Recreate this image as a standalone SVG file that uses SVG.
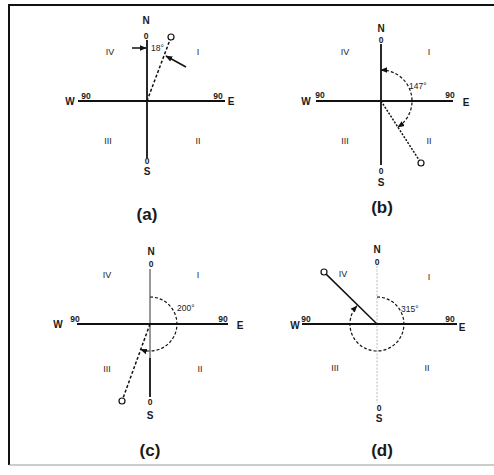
<svg xmlns="http://www.w3.org/2000/svg" width="494" height="475" viewBox="0 0 494 475">
<defs>
<marker id="ah" viewBox="0 0 10 10" refX="9" refY="5" markerWidth="7" markerHeight="7" markerUnits="userSpaceOnUse" orient="auto-start-reverse"><path d="M0,1 L10,5 L0,9 z" fill="#111"/></marker>
</defs>
<style>
text{font-family:"Liberation Sans",Arial,sans-serif;fill:#1a1a1a;text-anchor:middle}
.dir{font-size:10px;font-weight:bold}
.num{font-size:8.5px;font-weight:bold}
.q{font-size:9px}
.ang{font-size:8.5px;text-anchor:start}
.cap{font-size:17px;font-weight:bold}
.axis{stroke:#111;stroke-width:1.8;fill:none}
.ray{stroke:#111;stroke-width:1.5;fill:none}
.arc{stroke:#111;stroke-width:1.2;fill:none;stroke-dasharray:3,2}
.end{fill:#fff;stroke:#111;stroke-width:1.2}
</style>
<rect width="494" height="475" fill="#fff"/>
<g id="frame">
<line x1="9" y1="5" x2="494" y2="5" stroke="#111" stroke-width="2"/>
<line x1="9" y1="4" x2="9" y2="465" stroke="#111" stroke-width="2"/>
<line x1="9" y1="465" x2="494" y2="465" stroke="#999" stroke-width="1.2"/>
</g>

<g id="diagram-a">
<line class="axis" x1="147" y1="40" x2="147" y2="158"/>
<line class="axis" x1="78" y1="101" x2="225" y2="101"/>
<text class="dir" x="146" y="24">N</text>
<text class="num" x="146" y="39">0</text>
<text class="num" x="147" y="164">0</text>
<text class="dir" x="147" y="175">S</text>
<text class="dir" x="70" y="105">W</text>
<text class="num" x="86" y="99">90</text>
<text class="num" x="218" y="99">90</text>
<text class="dir" x="231" y="105">E</text>
<text class="q" x="110" y="55">IV</text>
<text class="q" x="198" y="55">I</text>
<text class="q" x="108" y="144">III</text>
<text class="q" x="198" y="144">II</text>
<text class="ang" x="151" y="51">18°</text>
<g id="connectors-a">
<line class="ray" x1="147" y1="101" x2="170" y2="39.8" stroke-dasharray="3,2"/>
<line class="ray" x1="132" y1="48" x2="146" y2="48" marker-end="url(#ah)"/>
<line class="ray" x1="186" y1="67" x2="166" y2="56" marker-end="url(#ah)"/>
</g>
<circle class="end" cx="171" cy="37" r="3"/>
<text class="cap" x="147" y="220">(a)</text>
</g>

<g id="diagram-b">
<line class="axis" x1="381" y1="44" x2="381" y2="165"/>
<line class="axis" x1="316" y1="101" x2="453" y2="101"/>
<text class="dir" x="381" y="32">N</text>
<text class="num" x="381" y="43">0</text>
<text class="num" x="381" y="174">0</text>
<text class="dir" x="381" y="186">S</text>
<text class="dir" x="306" y="105">W</text>
<text class="num" x="320" y="98">90</text>
<text class="num" x="450" y="98">90</text>
<text class="dir" x="466" y="106">E</text>
<text class="q" x="345" y="55">IV</text>
<text class="q" x="429" y="55">I</text>
<text class="q" x="345" y="144">III</text>
<text class="q" x="429" y="144">II</text>
<text class="ang" x="409" y="89">147°</text>
<g id="connectors-b">
<line class="ray" x1="381" y1="101" x2="419.4" y2="160.5" stroke-dasharray="2,1.5"/>
<path class="arc" d="M381,70 A31,31 0 0 1 397.9,127" marker-start="url(#ah)" marker-end="url(#ah)"/>
</g>
<circle class="end" cx="421" cy="163" r="3"/>
<text class="cap" x="382" y="213">(b)</text>
</g>

<g id="diagram-c">
<line x1="150" y1="269" x2="150" y2="358" stroke="#999" stroke-width="2"/>
<line class="axis" x1="150" y1="358" x2="150" y2="397"/>
<line class="axis" x1="77" y1="324" x2="228" y2="324"/>
<text class="dir" x="151" y="255">N</text>
<text class="num" x="151" y="267">0</text>
<text class="num" x="150" y="405">0</text>
<text class="dir" x="150" y="419">S</text>
<text class="dir" x="58" y="328">W</text>
<text class="num" x="75" y="322">90</text>
<text class="num" x="223" y="322">90</text>
<text class="dir" x="240" y="329">E</text>
<text class="q" x="107" y="278">IV</text>
<text class="q" x="198" y="278">I</text>
<text class="q" x="107" y="372">III</text>
<text class="q" x="200" y="372">II</text>
<text class="ang" x="177" y="311">200°</text>
<g id="connectors-c">
<line class="ray" x1="150" y1="324" x2="123" y2="398.2" stroke-dasharray="3,2"/>
<path class="arc" d="M150,297 A27,27 0 1 1 140.8,349.4" marker-end="url(#ah)"/>
</g>
<circle class="end" cx="122" cy="401" r="3"/>
<text class="cap" x="150" y="456">(c)</text>
</g>

<g id="diagram-d">
<line x1="377" y1="266" x2="377" y2="403" stroke="#bbb" stroke-width="1" stroke-dasharray="2,1.5"/>
<line class="axis" x1="302" y1="324" x2="457" y2="324"/>
<text class="dir" x="377" y="253">N</text>
<text class="num" x="377" y="265">0</text>
<text class="num" x="379" y="411">0</text>
<text class="dir" x="379" y="422">S</text>
<text class="dir" x="295" y="329">W</text>
<text class="num" x="306" y="322">90</text>
<text class="num" x="450" y="322">90</text>
<text class="dir" x="462" y="331">E</text>
<text class="q" x="343" y="277">IV</text>
<text class="q" x="429" y="280">I</text>
<text class="q" x="335" y="371">III</text>
<text class="q" x="427" y="371">II</text>
<text class="ang" x="401" y="312">315°</text>
<g id="connectors-d">
<line class="ray" x1="377" y1="324" x2="326.1" y2="274.1"/>
<path class="arc" d="M377,297 A27,27 0 1 1 356.9,305.9" marker-end="url(#ah)"/>
</g>
<circle class="end" cx="324" cy="272" r="3"/>
<text class="cap" x="382" y="456">(d)</text>
</g>
</svg>
